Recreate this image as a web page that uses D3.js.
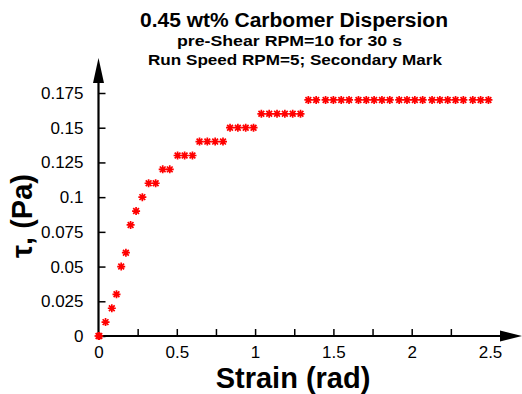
<!DOCTYPE html>
<meta charset="utf-8">
<style>

body { margin: 0; background: #fff; }

text {
  font-family: "Liberation Sans", Arial, sans-serif;
  fill: #000;
}

.title { font-weight: bold; text-anchor: middle; }

.tick text { font-size: 17px; }

.axis-label { font-weight: bold; text-anchor: middle; }

.pt { stroke: #ff0000; stroke-width: 1.7; fill: none; }

</style>
<body>
<svg width="522" height="394"></svg>
<script src="https://d3js.org/d3.v7.min.js"></script>
<script>

var titleLines = ["0.45 wt% Carbomer Dispersion", "pre-Shear RPM=10 for 30 s", "Run Speed RPM=5; Secondary Mark"];

// strain (rad) and shear stress (Pa)
var strain = [0, 0.005, 0.045, 0.085, 0.115, 0.145, 0.175, 0.205, 0.24, 0.28, 0.32, 0.365, 0.41, 0.455,
  0.505, 0.55, 0.6, 0.645, 0.695, 0.745, 0.795, 0.84, 0.89, 0.94, 0.99,
  1.04, 1.09, 1.14, 1.19, 1.24, 1.29,
  1.34, 1.39, 1.45, 1.50, 1.55, 1.60, 1.66, 1.71, 1.76, 1.81, 1.86, 1.92, 1.97, 2.02, 2.07, 2.13, 2.18, 2.23, 2.28, 2.33, 2.39, 2.44, 2.49];
var stress = [0, 0, 0.01, 0.02, 0.03, 0.05, 0.06, 0.08, 0.09, 0.1, 0.11, 0.11, 0.12, 0.12,
  0.13, 0.13, 0.13, 0.14, 0.14, 0.14, 0.14, 0.15, 0.15, 0.15, 0.15,
  0.16, 0.16, 0.16, 0.16, 0.16, 0.16,
  0.17, 0.17, 0.17, 0.17, 0.17, 0.17, 0.17, 0.17, 0.17, 0.17, 0.17, 0.17, 0.17, 0.17, 0.17, 0.17, 0.17, 0.17, 0.17, 0.17, 0.17, 0.17, 0.17];

var xTicks = [0.25, 0.5, 0.75, 1, 1.25, 1.5, 1.75, 2, 2.25];
var xTickLabels = [0, 0.5, 1, 1.5, 2, 2.5];
var yTicks = [0, 0.025, 0.05, 0.075, 0.1, 0.125, 0.15, 0.175];

var svg = d3.select("svg");

var x = d3.scaleLinear().domain([0, 2.5]).range([98.5, 490]);
var y = d3.scaleLinear().domain([0, 0.175]).range([336, 93]);

// titles (the original font runs wide, so stretch to its measured widths)
var titleX = [294, 289.5, 295], titleY = [27, 46, 65],
    titleSize = [20, 14, 14], titleWidth = [308, 225, 294];
svg.selectAll(".title")
  .data(titleLines)
  .enter().append("text")
    .attr("class", "title")
    .attr("x", function(d, i) { return titleX[i]; })
    .attr("y", function(d, i) { return titleY[i]; })
    .attr("textLength", function(d, i) { return titleWidth[i]; })
    .attr("lengthAdjust", "spacingAndGlyphs")
    .style("font-size", function(d, i) { return titleSize[i] + "px"; })
    .text(function(d) { return d; });

// y axis: ticks point inward, labels on the left
var yAxis = svg.append("g")
    .attr("transform", "translate(" + x(0) + ",0)")
    .call(d3.axisLeft(y).tickValues(yTicks).tickSize(-7).tickPadding(15)
      .tickFormat(function(d) { return d3.format("")(+d.toFixed(3)); }));
yAxis.select(".domain").remove();
yAxis.selectAll(".tick line").attr("stroke", "#000").attr("stroke-width", 1.5);

// x axis ticks (upward) and labels
var xAxis = svg.append("g")
    .attr("transform", "translate(0," + y(0) + ")")
    .call(d3.axisBottom(x).tickValues(xTicks).tickSize(-7).tickFormat(""));
xAxis.select(".domain").remove();
xAxis.selectAll(".tick line").attr("stroke", "#000").attr("stroke-width", 1.5);

var xLab = svg.append("g")
    .attr("transform", "translate(0," + y(0) + ")")
    .call(d3.axisBottom(x).tickValues(xTickLabels).tickSize(0).tickPadding(10).tickFormat(d3.format("")));
xLab.select(".domain").remove();

// axis lines with arrowheads
svg.append("line")
    .attr("x1", x(0)).attr("x2", x(0))
    .attr("y1", y(0) + 1).attr("y2", 80)
    .attr("stroke", "#000").attr("stroke-width", 2.2);
svg.append("path")
    .attr("d", "M" + x(0) + ",58L" + (x(0) + 5.5) + ",83L" + (x(0) - 5.5) + ",83Z")
    .attr("fill", "#000");
svg.append("line")
    .attr("x1", x(0) - 1).attr("x2", 505)
    .attr("y1", y(0)).attr("y2", y(0))
    .attr("stroke", "#000").attr("stroke-width", 2.2);
svg.append("path")
    .attr("d", "M522," + y(0) + "L500," + (y(0) - 5.5) + "L500," + (y(0) + 5.5) + "Z")
    .attr("fill", "#000");

// axis titles
svg.append("text")
    .attr("class", "axis-label")
    .attr("x", 293)
    .attr("y", 388)
    .style("font-size", "29px")
    .text("Strain (rad)");

svg.append("text")
    .attr("class", "axis-label")
    .attr("transform", "translate(32,216) rotate(-90)")
    .style("font-size", "29px")
    .text("τ, (Pa)");

// star markers
var r = 4, rd = r * 0.72;
var star = "M" + (-r) + ",0L" + r + ",0M0," + (-r) + "L0," + r +
    "M" + (-rd) + "," + (-rd) + "L" + rd + "," + rd +
    "M" + (-rd) + "," + rd + "L" + rd + "," + (-rd);

svg.append("g").selectAll(".pt")
  .data(strain.map(function(s, i) { return [s, stress[i]]; }))
  .enter().append("path")
    .attr("class", "pt")
    .attr("transform", function(d) { return "translate(" + x(d[0]) + "," + y(d[1]) + ")"; })
    .attr("d", star);

</script>
</body>
